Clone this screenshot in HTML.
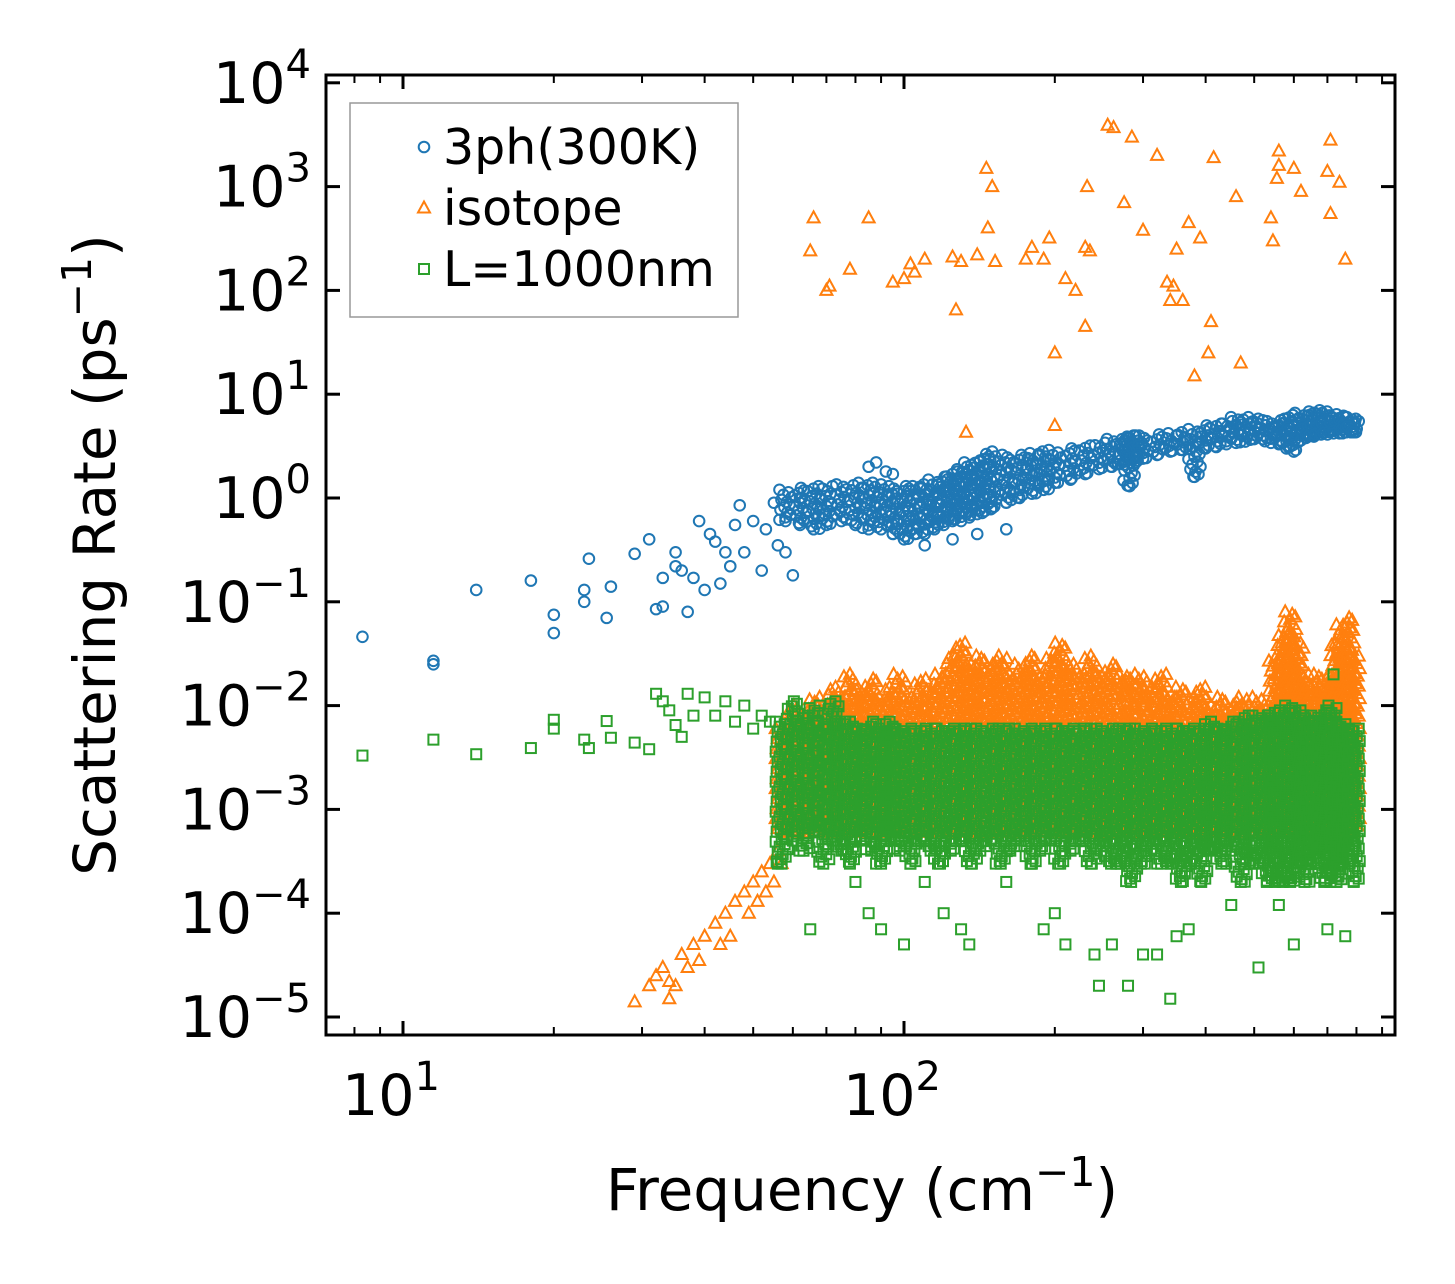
<!DOCTYPE html>
<html><head><meta charset="utf-8"><style>
html,body{margin:0;padding:0;background:#fff;}
svg{display:block;font-family:"DejaVu Sans","Liberation Sans",sans-serif;}
</style></head><body>
<svg id="chart" width="1455" height="1284" viewBox="0 0 1455 1284">
<rect x="0" y="0" width="1455" height="1284" fill="#fff"/>
<g id="marks"></g>
<g id="axes"></g>
</svg>
<script>
// ---------------- data ----------------
const blueFreq = [8.3,11.5,11.5,14,18,20,20,23,23,23.5,25.5,26,29,31,32,33,33,35,35,36,37,38,39,40,41,42,43,44,45,46,47,48,50,52,53,55,56,58,60,62,85,88,92,95,110,125,160,140];
const blueRate = [0.046,0.025,0.027,0.13,0.16,0.075,0.05,0.13,0.1,0.26,0.07,0.14,0.29,0.4,0.085,0.09,0.17,0.22,0.3,0.2,0.08,0.17,0.6,0.13,0.45,0.38,0.15,0.3,0.22,0.55,0.85,0.3,0.6,0.2,0.5,0.9,0.35,0.3,0.18,1.0,2.0,2.2,1.8,1.7,0.35,0.4,0.5,0.45];
const blueBandFreq = [58,62,66,70,75,80,85,90,95,100,105,110,115,120,125,130,135,140,145,150,160,170,180,190,200,215,230,245,260,275,282,290,300,320,340,360,380,400,420,440,460,480,500,520,540,560,580,600,620,640,660,680,700,720,740,760,780,790];
const blueBandLo = [0.6,0.55,0.5,0.55,0.6,0.55,0.5,0.5,0.45,0.4,0.45,0.45,0.5,0.55,0.6,0.6,0.65,0.7,0.75,0.8,0.9,1.0,1.1,1.2,1.4,1.5,1.7,1.9,2.0,2.1,1.3,2.2,2.4,2.6,2.8,2.9,1.6,3.0,3.1,3.3,3.4,3.5,3.7,3.7,3.4,3.3,3.0,2.8,3.6,3.9,4.0,4.1,4.1,4.2,4.2,4.3,4.3,4.3];
const blueBandHi = [1.2,1.25,1.3,1.3,1.35,1.4,1.4,1.35,1.3,1.3,1.3,1.35,1.5,1.6,1.8,2.0,2.2,2.3,2.5,2.8,2.6,2.6,2.7,2.8,2.9,3.0,3.2,3.4,3.7,3.9,4.0,4.0,4.0,4.1,4.2,4.3,4.6,5.0,5.2,5.5,6.0,6.0,5.8,5.6,5.5,5.6,5.8,6.3,6.6,6.8,7.0,6.8,6.6,6.4,6.2,6.0,6.0,5.8];

const orangeFreq = [65,66,70,71,78,85,95,100,103,105,110,125,127,130,133,140,146,147,150,152,175,180,190,195,200,200,210,220,230,230,232,235,255,262,275,285,300,320,335,340,345,350,360,370,380,390,405,410,415,460,470,540,545,555,560,560,600,620,700,710,710,740,760,29,31,32,33,34,34,35,36,37,38,39,40,42,43,44,45,46,48,49,50,51,52,53,54,55,56,57,58];
const orangeRate = [240,500,100,110,160,500,120,130,180,150,200,210,65,190,4.3,220,1500,400,1000,190,200,260,200,320,25,5,130,100,45,260,1000,240,3900,3700,700,3000,380,2000,120,80,110,250,80,450,15,320,25,50,1900,800,20,500,300,1200,2200,1600,1500,900,1400,2800,550,1100,200,1.4e-5,2e-5,2.5e-5,3e-5,1.5e-5,2.2e-5,2e-5,4e-5,3e-5,5e-5,3.5e-5,6e-5,8e-5,5e-5,1e-4,6e-5,1.3e-4,1.6e-4,1e-4,2e-4,1.3e-4,2.5e-4,1.6e-4,3e-4,2e-4,4e-4,3e-4,6e-4];
const orangeBandFreq = [57,60,63,66,69,72,75,78,82,86,90,94,98,103,108,113,118,124,130,136,142,149,156,163,171,179,187,196,205,215,225,236,247,259,271,284,297,311,326,341,357,374,392,410,430,450,470,490,510,530,550,570,590,610,630,650,670,690,710,730,750,770,790];
const orangeBandLo = [0.0006,0.0006,0.0006,0.0006,0.0006,0.0006,0.0006,0.0006,0.0006,0.0006,0.0006,0.0006,0.0006,0.0006,0.0006,0.0006,0.0006,0.0006,0.0006,0.0006,0.0006,0.0006,0.0006,0.0006,0.0006,0.0006,0.0006,0.0006,0.0006,0.0006,0.0006,0.0006,0.0006,0.0006,0.0006,0.0006,0.0006,0.0006,0.0006,0.0006,0.0006,0.0006,0.0006,0.0006,0.0006,0.0006,0.0006,0.0006,0.0006,0.0006,0.0006,0.0006,0.0006,0.0006,0.0006,0.0006,0.0006,0.0006,0.0006,0.0006,0.0006,0.0006,0.0006];
const orangeBandHi = [0.006,0.01,0.008,0.012,0.01,0.015,0.012,0.02,0.014,0.018,0.012,0.015,0.02,0.012,0.018,0.015,0.02,0.03,0.04,0.025,0.03,0.025,0.03,0.02,0.025,0.03,0.02,0.03,0.04,0.025,0.02,0.03,0.02,0.025,0.02,0.018,0.02,0.015,0.02,0.012,0.015,0.012,0.015,0.01,0.012,0.01,0.012,0.01,0.012,0.01,0.03,0.05,0.08,0.04,0.02,0.015,0.02,0.015,0.02,0.04,0.06,0.07,0.03];

const greenFreq = [8.3,11.5,14,18,20,20,23,23.5,25.5,26,29,31,32,33,34,35,36,37,38,40,42,44,46,48,50,52,54,56,65,80,85,90,100,110,120,130,135,160,180,190,200,210,240,245,260,280,300,320,340,350,370,450,510,560,600,700,760,720];
const greenRate = [0.0033,0.0047,0.0034,0.0039,0.0073,0.006,0.0047,0.0039,0.0071,0.0049,0.0044,0.0038,0.013,0.011,0.009,0.0065,0.005,0.013,0.008,0.012,0.008,0.011,0.007,0.01,0.006,0.008,0.007,0.0003,0.00007,0.0002,0.0001,0.00007,0.00005,0.0002,0.0001,0.00007,0.00005,0.0002,0.0003,0.00007,0.0001,0.00005,0.00004,0.00002,0.00005,0.00002,0.00004,0.00004,0.000015,0.00006,0.00007,0.00012,0.00003,0.00012,0.00005,0.00007,0.00006,0.02];
const greenBandFreq = [57,60,63,66,69,72,75,78,82,86,90,94,98,103,108,113,118,124,130,136,142,149,156,163,171,179,187,196,205,215,225,236,247,259,271,284,297,311,326,341,357,374,392,410,430,450,470,490,510,530,550,570,590,610,630,650,670,690,710,730,750,770,790];
const greenBandLo = [0.0003,0.0005,0.0004,0.0006,0.0003,0.0005,0.0004,0.0003,0.0005,0.0004,0.0003,0.0005,0.0004,0.0003,0.0005,0.0004,0.0003,0.0004,0.0005,0.0003,0.0004,0.0005,0.0003,0.0004,0.0005,0.0003,0.0004,0.0005,0.0003,0.0004,0.0005,0.0003,0.0004,0.0003,0.0003,0.0002,0.0003,0.0004,0.0003,0.0003,0.0002,0.0003,0.0002,0.0004,0.0003,0.0004,0.0002,0.0003,0.0003,0.0002,0.0002,0.0002,0.0002,0.0003,0.0002,0.0003,0.0004,0.0002,0.0002,0.0002,0.0004,0.0003,0.0002];
const greenBandHi = [0.007,0.011,0.008,0.01,0.007,0.011,0.007,0.007,0.006,0.007,0.006,0.007,0.006,0.006,0.006,0.006,0.006,0.006,0.006,0.006,0.006,0.006,0.006,0.006,0.006,0.006,0.006,0.006,0.006,0.006,0.006,0.006,0.006,0.006,0.006,0.006,0.006,0.006,0.006,0.006,0.006,0.006,0.006,0.007,0.006,0.007,0.007,0.008,0.008,0.008,0.009,0.009,0.01,0.009,0.007,0.008,0.007,0.009,0.01,0.007,0.007,0.006,0.006];

const xTickVals = [10,100];
const xTickExp = ["1","2"];
const yTickVals = [1e-5,1e-4,1e-3,1e-2,1e-1,1,10,100,1000,10000];
const yTickExp = ["\u22125","\u22124","\u22123","\u22122","\u22121","0","1","2","3","4"];

// ---------------- axes ----------------
const L=326,R=1395,T=75,B=1035;
const X10=403, PXDEC=501, Y1=498, PYDEC=103.8;
function xs(v){return X10+(Math.log10(v)-1)*PXDEC;}
function ys(v){return Y1-Math.log10(v)*PYDEC;}
const NS="http://www.w3.org/2000/svg";
const marks=document.getElementById('marks');
const axes=document.getElementById('axes');
function mk(tag,attrs,parent){const e=document.createElementNS(NS,tag);for(const k in attrs)e.setAttribute(k,attrs[k]);parent.appendChild(e);return e;}

const clip=mk('clipPath',{id:'pc'},marks);mk('rect',{x:L,y:T,width:R-L,height:B-T},clip);
const plot=mk('g',{'clip-path':'url(#pc)'},marks);

const C_BLUE="#1f77b4",C_OR="#ff7f0e",C_GR="#2ca02c";
function circle(x,y,g){const e=mk('circle',{cx:x,cy:y,r:5.3,fill:'none',stroke:C_BLUE,'stroke-width':2},g);

}
function tri(x,y,g){const e=mk('path',{d:`M${x} ${y-6.5}L${x+6} ${y+4.5}L${x-6} ${y+4.5}Z`,fill:'none',stroke:C_OR,'stroke-width':2},g);

}
function sq(x,y,g){const e=mk('rect',{x:x-5,y:y-5,width:10,height:10,fill:'none',stroke:C_GR,'stroke-width':2},g);

}

const OFF=[-6,3,-2,6,-4,1,4,-1,-5,2,5,0];
function band(fr,lo,hi,fn,g,step){
  for(let i=0;i<fr.length;i++){
    const x=xs(fr[i]);const y0=ys(hi[i]),y1=ys(lo[i]);
    let k=i*5;
    for(let y=y0;y<=y1;y+=step){fn(x+OFF[k%OFF.length],y,g);k++;}
    fn(x,y1,g);
  }
}
const gB=mk('g',{},plot);
blueFreq.forEach((f,i)=>circle(xs(f),ys(blueRate[i]),gB));
band(blueBandFreq,blueBandLo,blueBandHi,circle,gB,2.5);
const gO=mk('g',{},plot);
orangeFreq.forEach((f,i)=>tri(xs(f),ys(orangeRate[i]),gO));
band(orangeBandFreq,orangeBandLo,orangeBandHi,tri,gO,2.5);
const gG=mk('g',{},plot);
greenFreq.forEach((f,i)=>sq(xs(f),ys(greenRate[i]),gG));
band(greenBandFreq,greenBandLo,greenBandHi,sq,gG,2.5);

// frame
const fr=mk('rect',{x:L,y:T,width:R-L,height:B-T,fill:'none',stroke:'#000','stroke-width':3},axes);

// x ticks
for(let d=0;d<3;d++){for(let m=1;m<10;m++){const v=m*Math.pow(10,d);const x=xs(v);if(x<L+1||x>R-1)continue;
 const len=m===1?14:8;
 mk('line',{x1:x,y1:B,x2:x,y2:B-len,stroke:'#000','stroke-width':m===1?3:2},axes);
 mk('line',{x1:x,y1:T,x2:x,y2:T+len,stroke:'#000','stroke-width':m===1?3:2},axes);}}
xTickVals.forEach((v,i)=>{const t=mk('text',{x:xs(v)-12,y:1115,'font-size':57,'text-anchor':'middle',fill:'#000'},axes);
 
 t.textContent='10';const s=mk('tspan',{dy:-25,'font-size':40},t);s.textContent=xTickExp[i];});
yTickVals.forEach((v,i)=>{const y=ys(v);
 mk('line',{x1:L,y1:y,x2:L+14,y2:y,stroke:'#000','stroke-width':3},axes);
 mk('line',{x1:R,y1:y,x2:R-14,y2:y,stroke:'#000','stroke-width':3},axes);
 const t=mk('text',{x:311,y:y+20,'font-size':57,'text-anchor':'end',fill:'#000'},axes);
 
 t.appendChild(document.createTextNode('10'));const s=mk('tspan',{dy:-25,'font-size':40},t);s.textContent=yTickExp[i];});
// axis titles
const xt=mk('text',{x:862,y:1210,'font-size':58,'text-anchor':'middle',fill:'#000'},axes);

xt.appendChild(document.createTextNode('Frequency (cm'));let s1=mk('tspan',{dy:-24,'font-size':41},xt);s1.textContent='\u22121';
let s2=mk('tspan',{dy:24},xt);s2.textContent=')';
const yt=mk('text',{x:0,y:0,'font-size':58,'text-anchor':'middle',fill:'#000',transform:'translate(115,555) rotate(-90)'},axes);

yt.appendChild(document.createTextNode('Scattering Rate (ps'));let s3=mk('tspan',{dy:-24,'font-size':41},yt);s3.textContent='\u22121';
let s4=mk('tspan',{dy:24},yt);s4.textContent=')';
// legend
const lg=mk('g',{},axes);
mk('rect',{x:350,y:103,width:388,height:214,fill:'#fff','fill-opacity':0.8,stroke:'#999','stroke-width':1.5},lg);
const legNames=["3ph(300K)","isotope","L=1000nm"];
const legFns=[circle,tri,sq];
legNames.forEach((n,i)=>{const y=147+i*61;const e=mk('g',{},lg);
 
 legFns[i](424,y,e);
 const t=mk('text',{x:443,y:y+17,'font-size':49,fill:'#000'},e);t.textContent=n;});
</script>
</body></html>
